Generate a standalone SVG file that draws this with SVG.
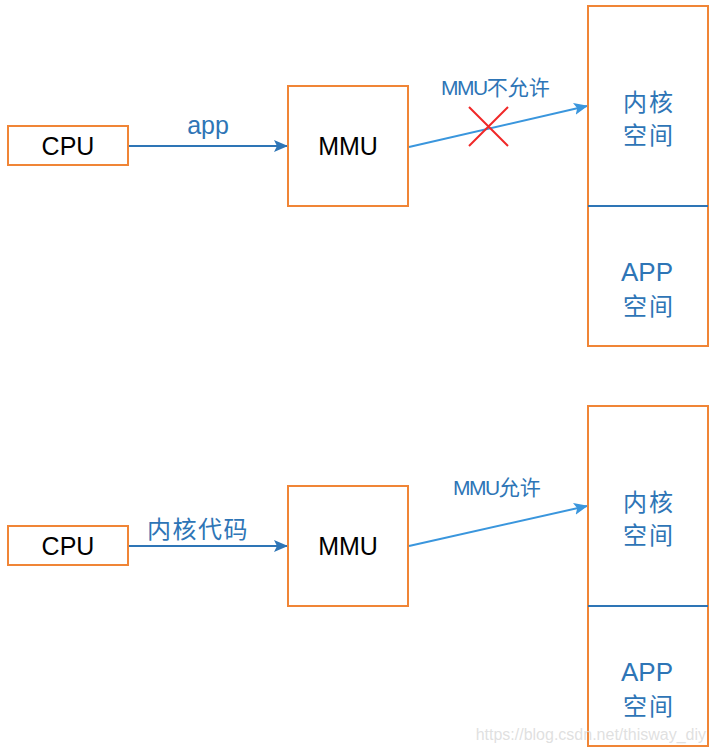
<svg xmlns="http://www.w3.org/2000/svg" width="715" height="752" viewBox="0 0 715 752">
<style>
.box{fill:#fff;stroke:#F08536;stroke-width:2}
.lbl{font-family:"Liberation Sans","Noto Sans CJK SC",sans-serif;font-size:25px;fill:#000;text-anchor:middle}
.mem{font-family:"Liberation Sans","Noto Sans CJK SC",sans-serif;font-size:24px;fill:#2E75B6;text-anchor:middle;letter-spacing:2px}
.app{font-family:"Liberation Sans",sans-serif;font-size:26px;fill:#2E75B6;text-anchor:middle}
.edge{font-family:"Liberation Sans","Noto Sans CJK SC",sans-serif;fill:#2E75B6}
.a1{stroke:#2E75B6;stroke-width:2;fill:none}
.a2{stroke:#3A96DD;stroke-width:2;fill:none}
.div{stroke:#2E75B6;stroke-width:2}
</style>
<defs>
<marker id="h1" viewBox="0 0 14 12" refX="13" refY="6" markerWidth="14" markerHeight="12" markerUnits="userSpaceOnUse" orient="auto"><path d="M0,0 L14,6 L0,12 L3,6 z" fill="#2E75B6"/></marker>
<marker id="h2" viewBox="0 0 14 12" refX="13" refY="6" markerWidth="14" markerHeight="12" markerUnits="userSpaceOnUse" orient="auto"><path d="M0,0 L14,6 L0,12 L3,6 z" fill="#3A96DD"/></marker>
</defs>
<rect width="715" height="752" fill="#fff"/>
<g id="connectors">
<line class="a1" x1="129" y1="146" x2="287" y2="146" marker-end="url(#h1)"/>
<line class="a2" x1="409" y1="147" x2="587" y2="106" marker-end="url(#h2)"/>
<line class="a1" x1="129" y1="546" x2="287" y2="546" marker-end="url(#h1)"/>
<line class="a2" x1="409" y1="546" x2="587" y2="506" marker-end="url(#h2)"/>
<text class="edge" x="208" y="134" font-size="25" text-anchor="middle">app</text>
<text class="edge" x="441" y="95" font-size="21"><tspan letter-spacing="-1.5">MMU</tspan>不允许</text>
<path d="M469,107 L508,146 M508,107 L469,146" stroke="#F02828" stroke-width="2" fill="none"/>
<text class="edge" x="198" y="538" font-size="24" text-anchor="middle" letter-spacing="1.5">内核代码</text>
<text class="edge" x="453" y="495" font-size="21"><tspan letter-spacing="-1.5">MMU</tspan>允许</text>
</g>
<g id="cpu1"><rect class="box" x="8" y="126" width="120" height="39"/><text class="lbl" x="68" y="155">CPU</text></g>
<g id="mmu1"><rect class="box" x="288" y="86" width="120" height="120"/><text class="lbl" x="348" y="155">MMU</text></g>
<g id="mem1"><rect class="box" x="588" y="6" width="120" height="340"/><line class="div" x1="588" y1="206" x2="708" y2="206"/>
<text class="mem" x="649" y="111">内核</text><text class="mem" x="649" y="144">空间</text>
<text class="app" x="647" y="281">APP</text><text class="mem" x="649" y="315">空间</text></g>
<g id="cpu2"><rect class="box" x="8" y="526" width="120" height="39"/><text class="lbl" x="68" y="555">CPU</text></g>
<g id="mmu2"><rect class="box" x="288" y="486" width="120" height="120"/><text class="lbl" x="348" y="555">MMU</text></g>
<g id="mem2"><rect class="box" x="588" y="406" width="120" height="340"/><line class="div" x1="588" y1="606" x2="708" y2="606"/>
<text class="mem" x="649" y="511">内核</text><text class="mem" x="649" y="544">空间</text>
<text class="app" x="647" y="681">APP</text><text class="mem" x="649" y="715">空间</text></g>
<text x="706" y="740" font-family="Liberation Sans,sans-serif" font-size="16" fill="#D8D8D8" fill-opacity="0.8" text-anchor="end">https://blog.csdn.net/thisway_diy</text>
</svg>
